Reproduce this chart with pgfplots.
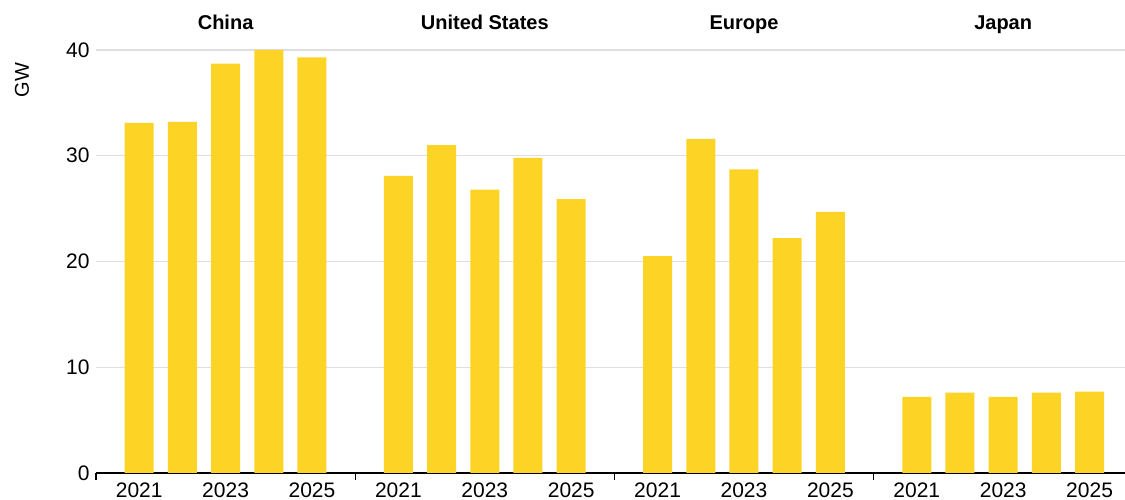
\documentclass[border=0pt]{standalone}
\usepackage{fontspec}
\setmainfont{Liberation Sans}
\usepackage{pgfplots}
\pgfplotsset{compat=1.18}
\definecolor{baryellow}{RGB}{253,211,38}
\definecolor{gridgrey}{RGB}{222,222,222}
\begin{document}
\begin{tikzpicture}
\begin{axis}[
  at={(0,0)}, anchor=south west,
  scale only axis, width=1029pt, height=423pt,
  xmin=-1, xmax=22.82, ymin=0, ymax=40,
  clip=false,
  axis x line*=bottom, axis y line*=left,
  y axis line style={draw=none},
  x axis line style={black, line width=1.2pt},
  ytick={0,10,20,30,40},
  ymajorgrids, grid style={gridgrey, line width=1.2pt},
  major tick length=0pt,
  xtick={0,2,4,6,8,10,12,14,16,18,20,22},
  xticklabels={2021,2023,2025,2021,2023,2025,2021,2023,2025,2021,2023,2025},
  extra x ticks={-1,5,11,17},
  extra x tick labels={},
  extra x tick style={major tick length=7pt, tick align=outside, tick style={black, line width=1.2pt}},
  /pgf/number format/assume math mode=true,
  ticklabel style={font=\fontsize{21}{24}\selectfont},
  xticklabel style={yshift=-6pt},
  yticklabel style={xshift=-3pt},
  ybar, bar width=29pt,
]
\addplot[fill=baryellow, draw=none] table {
x y
0 33.1
1 33.2
2 38.7
3 40.0
4 39.3
6 28.1
7 31.0
8 26.8
9 29.8
10 25.9
12 20.5
13 31.6
14 28.7
15 22.2
16 24.7
18 7.2
19 7.6
20 7.2
21 7.6
22 7.7
};
\node[anchor=base, font=\bfseries\fontsize{20}{24}\selectfont] at (axis cs:2,41.9) {China};
\node[anchor=base, font=\bfseries\fontsize{20}{24}\selectfont] at (axis cs:8,41.9) {United States};
\node[anchor=base, font=\bfseries\fontsize{20}{24}\selectfont] at (axis cs:14,41.9) {Europe};
\node[anchor=base, font=\bfseries\fontsize{20}{24}\selectfont] at (axis cs:20,41.9) {Japan};
\node[rotate=90, font=\fontsize{20}{24}\selectfont] at (axis description cs:-0.072,0.929) {GW};
\end{axis}
\pgfresetboundingbox
\path[use as bounding box] (-96pt,-27pt) rectangle (1029pt,473pt);
\end{tikzpicture}
\end{document}
